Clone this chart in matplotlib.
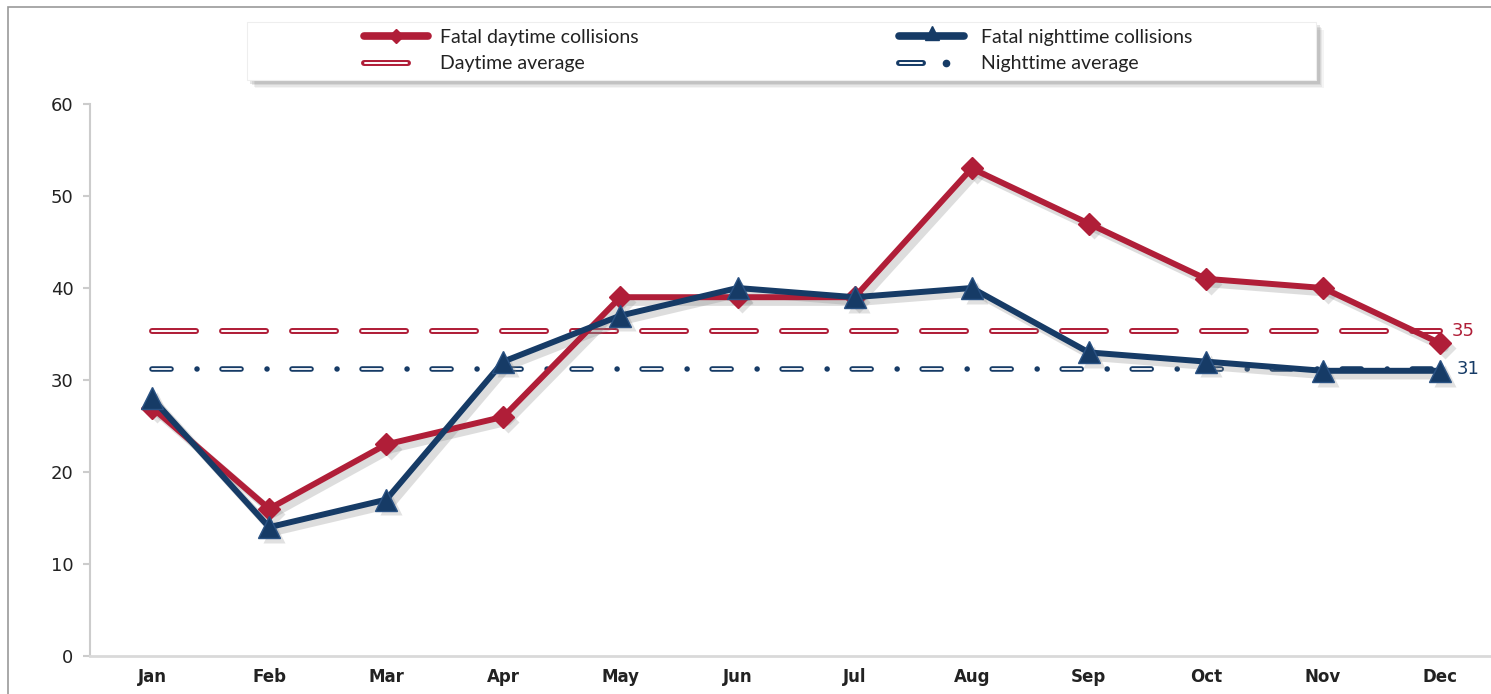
import matplotlib
matplotlib.use('Agg')
import matplotlib.pyplot as plt
from matplotlib.patches import Rectangle
from matplotlib.lines import Line2D
from matplotlib.transforms import ScaledTranslation
import numpy as np

months = ['Jan', 'Feb', 'Mar', 'Apr', 'May', 'Jun', 'Jul', 'Aug', 'Sep', 'Oct', 'Nov', 'Dec']
daytime = [27, 16, 23, 26, 39, 39, 39, 53, 47, 41, 40, 34]
nighttime = [28, 14, 17, 32, 37, 40, 39, 40, 33, 32, 31, 31]
day_avg = 35.3
night_avg = 31.2
yticks = [0, 10, 20, 30, 40, 50, 60]
labels = ['Fatal daytime collisions', 'Daytime average',
          'Fatal nighttime collisions', 'Nighttime average']

RED = '#B01E38'
NAVY = '#163B66'

plt.rcParams['lines.scale_dashes'] = False
plt.rcParams['font.family'] = ['Lato', 'DejaVu Sans']

W, H = 1491, 694
fig = plt.figure(figsize=(W / 100, H / 100), dpi=100)


def fx(px):
    return px / W


def fy(py):
    return 1 - py / H


ax = fig.add_axes([fx(90), fy(656), 1 - fx(90), fy(104) - fy(656)])
x = np.arange(len(months))
ax.set_xlim(-0.53, 11.435)
ax.set_ylim(0, 60)

# average lines (double line effect)
ax_ends = [x[0], x[-1]]
day_dash = (31.7, 18.7)
ax.plot(ax_ends, [day_avg, day_avg], color=RED, lw=4.3, dashes=day_dash,
        dash_capstyle='round', zorder=2)
ax.plot(ax_ends, [day_avg, day_avg], color='white', lw=1.4, dashes=day_dash,
        dash_capstyle='round', zorder=2.1)

night_dash_r = (13.7, 18.7, 0.01, 18.0)
night_dash_w = (13.7, 36.71)
ax.plot(ax_ends, [night_avg, night_avg], color=NAVY, lw=4.0, dashes=night_dash_r,
        dash_capstyle='round', zorder=2)
ax.plot(ax_ends, [night_avg, night_avg], color='white', lw=1.3, dashes=night_dash_w,
        dash_capstyle='round', zorder=2.1)

# drop shadows
sh_tr = ax.transData + ScaledTranslation(3.5 / 72, -3.5 / 72, fig.dpi_scale_trans)
for data, mk, ms in ((daytime, 'D', 11), (nighttime, '^', 16)):
    ax.plot(x, data, color='#888888', alpha=0.28, lw=5.5, transform=sh_tr, zorder=3,
            solid_capstyle='round')
    ax.plot(x, data, ls='none', marker=mk, ms=ms, mfc='#888888', mec='none', alpha=0.25,
            transform=sh_tr, zorder=3)

ax.plot(x, daytime, color=RED, lw=4.3, marker='D', ms=11, mec=RED, mew=1, zorder=4)
ax.plot(x, nighttime, color=NAVY, lw=4.3, marker='^', ms=16, mec='#2a5283', mew=1, zorder=5)

ax.text(11.1, day_avg, f'{round(day_avg)}', color=RED, fontsize=13, va='center', ha='left',
        family=['DejaVu Sans'])
ax.text(11.14, night_avg, f'{round(night_avg)}', color=NAVY, fontsize=13, va='center', ha='left',
        family=['DejaVu Sans'])

# axes styling
for s in ['top', 'right']:
    ax.spines[s].set_visible(False)
ax.spines['left'].set_color('#cccccc')
ax.spines['left'].set_linewidth(1.5)
ax.spines['bottom'].set_color('#d9d9d9')
ax.spines['bottom'].set_linewidth(2)
ax.set_yticks(yticks)
ax.set_yticklabels([str(v) for v in yticks], family=['DejaVu Sans'], fontsize=13, color='#222222')
ax.set_xticks(x)
ax.set_xticklabels(months, family=['DejaVu Sans'], fontsize=12, fontweight='bold', color='#222222')
ax.tick_params(axis='y', length=5, width=1.5, color='#cccccc', pad=7)
ax.tick_params(axis='x', length=0, pad=9)

# legend box with shadow
for i, a in enumerate([0.06, 0.08, 0.1, 0.13]):
    off = 8 - i * 1.5
    fig.patches.append(Rectangle((fx(247 + off), fy(80 + off)), fx(1069), fy(22) - fy(80),
                                 transform=fig.transFigure, facecolor='#444444', alpha=a,
                                 edgecolor='none', zorder=1))
fig.patches.append(Rectangle((fx(247), fy(80)), fx(1069), fy(22) - fy(80),
                             transform=fig.transFigure, facecolor='white',
                             edgecolor='#eeeeee', lw=0.8, zorder=1.5))

# legend handles (drawn manually)
r1, r2 = fy(36), fy(62.5)
ft = fig.transFigure
fig.add_artist(Line2D([fx(364), fx(428)], [r1, r1], transform=ft, color=RED, lw=5.5,
                      solid_capstyle='round', zorder=3))
fig.add_artist(Line2D([fx(396)], [r1], transform=ft, color=RED, marker='D', ms=7.5, ls='none', zorder=3))
fig.add_artist(Line2D([fx(364), fx(408)], [r2, r2], transform=ft, color=RED, lw=4.3,
                      solid_capstyle='round', zorder=3))
fig.add_artist(Line2D([fx(365), fx(407)], [r2, r2], transform=ft, color='white', lw=1.4,
                      solid_capstyle='round', zorder=3.1))

fig.add_artist(Line2D([fx(899), fx(964)], [r1, r1], transform=ft, color=NAVY, lw=5.5,
                      solid_capstyle='round', zorder=3))
fig.add_artist(Line2D([fx(932)], [r1 + 0.004], transform=ft, color=NAVY, marker='^', ms=10, ls='none', zorder=3))
fig.add_artist(Line2D([fx(899), fx(923)], [r2, r2], transform=ft, color=NAVY, lw=4.3,
                      solid_capstyle='round', zorder=3))
fig.add_artist(Line2D([fx(900), fx(922)], [r2, r2], transform=ft, color='white', lw=1.4,
                      solid_capstyle='round', zorder=3.1))
fig.add_artist(Line2D([fx(946)], [r2], transform=ft, color=NAVY, marker='o', ms=4.5, ls='none', zorder=3))

for (px, py), lab in zip([(440, 37.5), (440, 63.5), (981, 37.5), (981, 63.5)], labels):
    fig.text(fx(px), fy(py), lab, fontsize=14, color='#222222', va='center', ha='left',
             family=['Lato', 'DejaVu Sans'], zorder=3)

# outer frame
fig.patches.append(Rectangle((fx(8), -0.5), 2, fy(7) + 0.5, transform=fig.transFigure,
                             fill=False, edgecolor='#999999', lw=1.2, zorder=0))

fig.savefig('out.png', dpi=100)
